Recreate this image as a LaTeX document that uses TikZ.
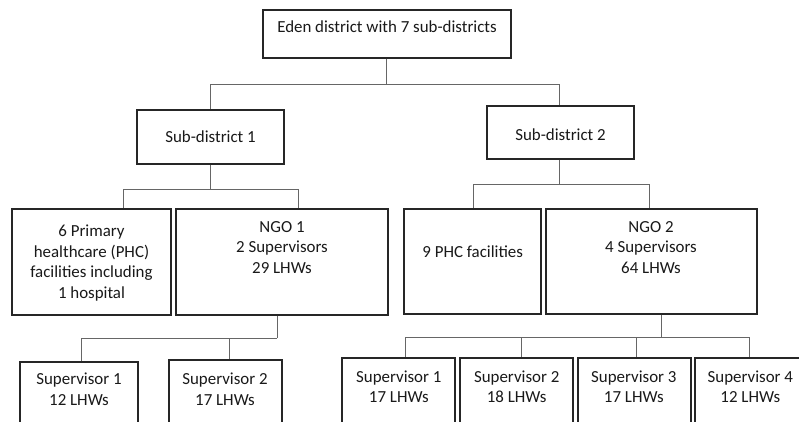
\documentclass[tikz,border=0pt]{standalone}
\usepackage{fontspec}
\setmainfont{Carlito}
\begin{document}
\begin{tikzpicture}[x=1pt,y=-1pt,
  box/.style={draw=black!85, line width=1.1pt, fill=white, inner sep=0pt},
  lbl/.style={text=black!90, align=center, inner sep=0pt, font=\fontsize{16.9}{20.7}\selectfont},
  conn/.style={draw=black!60, line width=0.9pt}]
\useasboundingbox (0,0) rectangle (799,421);
\clip (0,0) rectangle (799,421);
% level 0
\node[box, minimum width=248pt, minimum height=48pt] (top) at (387,34) {};
\node[lbl] (ttop) at (387,27) {Eden district with 7 sub-districts};
% level 1
\node[box, minimum width=147pt, minimum height=54pt] (sd1) at (210.5,137) {};
\node[lbl] (tsd1) at (210.5,137) {Sub-district 1};
\node[box, minimum width=147pt, minimum height=53pt] (sd2) at (560.5,132.5) {};
\node[lbl] (tsd2) at (560.5,135) {Sub-district 2};
% level 2
\node[box, minimum width=159pt, minimum height=106pt] (phc1) at (91.5,262) {};
\node[lbl] (tphc1) at (91.5,263) {6 Primary\\healthcare (PHC)\\facilities including\\1 hospital};
\node[box, minimum width=212pt, minimum height=106pt] (ngo1) at (282,262) {};
\node[lbl] (tngo1) at (282,247.5) {NGO 1\\2 Supervisors\\29 LHWs};
\node[box, minimum width=137pt, minimum height=105pt] (phc2) at (472.5,261.5) {};
\node[lbl] (tphc2) at (472.7,252) {9 PHC facilities};
\node[box, minimum width=211pt, minimum height=105pt] (ngo2) at (651.5,261.5) {};
\node[lbl] (tngo2) at (651,247.5) {NGO 2\\4 Supervisors\\64 LHWs};
% level 3 (boxes run past the lower edge)
\node[box, minimum width=118pt, minimum height=80pt] (sa1) at (79,402) {};
\node[lbl] (tsa1) at (79,389.5) {Supervisor 1\\12 LHWs};
\node[box, minimum width=113pt, minimum height=80pt] (sa2) at (225.5,400) {};
\node[lbl] (tsa2) at (225,389.5) {Supervisor 2\\17 LHWs};
\node[box, minimum width=113pt, minimum height=80pt] (sb1) at (398.5,398) {};
\node[lbl] (tsb1) at (398.8,386.8) {Supervisor 1\\17 LHWs};
\node[box, minimum width=113pt, minimum height=80pt] (sb2) at (516.5,398) {};
\node[lbl] (tsb2) at (516.7,386.8) {Supervisor 2\\18 LHWs};
\node[box, minimum width=113pt, minimum height=80pt] (sb3) at (634.5,398) {};
\node[lbl] (tsb3) at (633.8,386.8) {Supervisor 3\\17 LHWs};
\node[box, minimum width=111pt, minimum height=80pt] (sb4) at (750.5,398) {};
\node[lbl] (tsb4) at (750.3,386.8) {Supervisor 4\\12 LHWs};
% connectors
\coordinate (j0) at (386,84);
\draw[conn] (386,0 |- top.south) -- (j0);
\draw[conn] (j0) -| (210,0 |- sd1.north);
\draw[conn] (j0) -| (559,0 |- sd2.north);
\coordinate (j1) at (210,189);
\draw[conn] (210,0 |- sd1.south) -- (j1);
\draw[conn] (j1) -| (123,0 |- phc1.north);
\draw[conn] (j1) -| (298,0 |- ngo1.north);
\coordinate (j2) at (559,184);
\draw[conn] (559,0 |- sd2.south) -- (j2);
\draw[conn] (j2) -| (473,0 |- phc2.north);
\draw[conn] (j2) -| (649,0 |- ngo2.north);
\coordinate (j3) at (277,338);
\draw[conn] (277,0 |- ngo1.south) -- (j3);
\draw[conn] (j3) -| (81,0 |- sa1.north);
\draw[conn] (229,0 |- j3) -- (229,0 |- sa2.north);
\coordinate (j4) at (661,337);
\draw[conn] (661,0 |- ngo2.south) -- (j4);
\draw[conn] (j4) -| (405,0 |- sb1.north);
\draw[conn] (j4) -| (749,0 |- sb4.north);
\draw[conn] (521,0 |- j4) -- (521,0 |- sb2.north);
\draw[conn] (636,0 |- j4) -- (636,0 |- sb3.north);
\end{tikzpicture}
\end{document}
